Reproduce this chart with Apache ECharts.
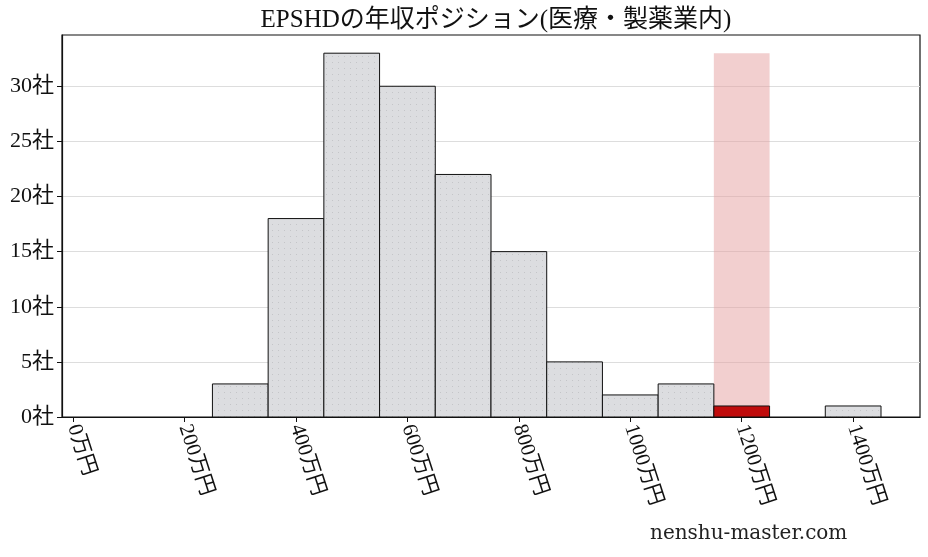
<!DOCTYPE html>
<html>
<head>
<meta charset="utf-8">
<script src="https://cdn.jsdelivr.net/npm/echarts@6/dist/echarts.min.js"></script>
<style>
html, body { margin: 0; padding: 0; background: #fff; }
#main { width: 928px; height: 557px; }
</style>
</head>
<body>
<div id="main"></div>
<script>
// 年収の階級（万円）と社数
var binStarts = [250, 350, 450, 550, 650, 750, 850, 950, 1050, 1150, 1350];
var binEnds   = [350, 450, 550, 650, 750, 850, 950, 1050, 1150, 1250, 1450];
var counts    = [3, 18, 33, 30, 22, 15, 5, 2, 3, 1, 1];
var highlightIndex = 9; // EPSHD の位置
var xTicks = [0, 200, 400, 600, 800, 1000, 1200, 1400];
var yTicks = [0, 5, 10, 15, 20, 25, 30];

var FONT = '"Liberation Serif", "DejaVu Serif", "Noto Sans CJK JP", serif';
var WIDE = '"DejaVu Serif", "Noto Sans CJK JP", serif';

// 棒の点々模様
var dotCanvas = document.createElement('canvas');
dotCanvas.width = 6; dotCanvas.height = 6;
var dctx = dotCanvas.getContext('2d');
dctx.fillStyle = '#dcdde0';
dctx.fillRect(0, 0, 6, 6);
dctx.fillStyle = '#c4c5c8';
dctx.fillRect(2, 2, 1, 1);
var dotFill = { image: dotCanvas, repeat: 'repeat' };

var maxCount = Math.max.apply(null, counts);
var histData = [];
for (var i = 0; i < counts.length; i++) {
    histData.push([binStarts[i], binEnds[i], counts[i], i === highlightIndex ? 1 : 0]);
}
var bandData = [[binStarts[highlightIndex], binEnds[highlightIndex], maxCount]];

function rectItem(params, api) {
    var p0 = api.coord([api.value(0), 0]);
    var p1 = api.coord([api.value(1), api.value(2)]);
    return { x: p0[0], y: p1[1], width: p1[0] - p0[0], height: p0[1] - p1[1] };
}

var option = {
    backgroundColor: '#fff',
    animation: false,
    title: {
        text: 'EPSHDの年収ポジション(医療・製薬業内)',
        left: 491, top: 3, textAlign: 'center',
        textStyle: { fontFamily: FONT, fontSize: 25, fontWeight: 'normal', color: '#111' }
    },
    graphic: [{
        type: 'text', left: 650, top: 524,
        style: { text: 'nenshu-master.com', font: '20px ' + WIDE, fill: '#222' }
    }],
    grid: { left: 62, right: 8, top: 35, bottom: 140, containLabel: false, show: true, borderColor: '#111', borderWidth: 1.2, backgroundColor: 'transparent' },
    xAxis: {
        type: 'value', min: -20, max: 1520,
        interval: 200,
        axisLine: { show: true, onZero: false, lineStyle: { color: '#111', width: 1.2 } },
        axisTick: { show: true, length: 5, lineStyle: { color: '#111' }, customValues: xTicks },
        axisLabel: {
            customValues: xTicks,
            rotate: -72, fontFamily: FONT, fontSize: 21, color: '#111', margin: 8,
            formatter: function (v) { return v + '万円'; }
        },
        splitLine: { show: false }
    },
    yAxis: {
        type: 'value', min: 0, max: maxCount * 1.05,
        axisLine: { show: true, onZero: false, lineStyle: { color: '#111', width: 1.2 } },
        axisTick: { show: true, length: 5, lineStyle: { color: '#111' }, customValues: yTicks },
        axisLabel: {
            customValues: yTicks,
            fontFamily: FONT, fontSize: 22, color: '#111', margin: 8,
            formatter: function (v) { return v + '社'; }
        },
        splitLine: { show: true, lineStyle: { color: '#dddddd', width: 1 } }
    },
    series: [{
        type: 'custom', z: 1,
        data: bandData,
        encode: { x: [0, 1], y: 2 },
        renderItem: function (params, api) {
            return { type: 'rect', shape: rectItem(params, api), style: { fill: 'rgba(230,160,160,0.5)' } };
        }
    }, {
        type: 'custom', z: 2,
        data: histData,
        encode: { x: [0, 1], y: 2 },
        renderItem: function (params, api) {
            var hl = api.value(3) === 1;
            return {
                type: 'rect', shape: rectItem(params, api),
                style: {
                    fill: hl ? '#c00c0c' : dotFill,
                    stroke: '#111', lineWidth: 1
                }
            };
        }
    }]
};

var chart = echarts.init(document.getElementById('main'));
chart.setOption(option);
</script>
</body>
</html>
